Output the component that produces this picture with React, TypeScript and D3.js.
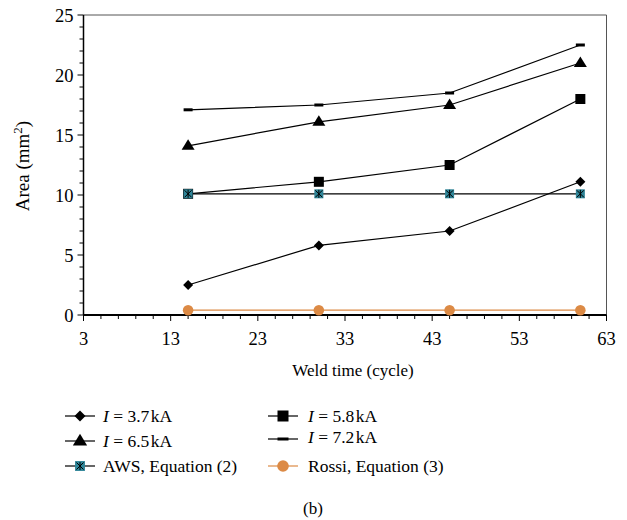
import React from "react";
import * as d3 from "d3";

const weldTime = [15, 30, 45, 60];
const s37 = [2.5, 5.8, 7.0, 11.1];
const s58 = [10.1, 11.1, 12.5, 18.0];
const s65 = [14.1, 16.1, 17.5, 21.0];
const s72 = [17.1, 17.5, 18.5, 22.5];
const aws = [10.1, 10.1, 10.1, 10.1];
const rossi = [0.4, 0.4, 0.4, 0.4];
const xTicks = [3, 13, 23, 33, 43, 53, 63];
const yTicks = [0, 5, 10, 15, 20, 25];

const W = 627, H = 520;
const L = 83.5, R = 606.5, T = 15, B = 315;
const FONT = "'Liberation Serif', 'Times New Roman', serif";
const TEAL = "#2f8598";
const ORANGE = "#dc8a45";

type Marker = "diamond" | "square" | "triangle" | "dash" | "aws" | "circle";

function MarkerShape({ kind, x, y, big }: { kind: Marker; x: number; y: number; big?: boolean }) {
  const k = big ? 1.1 : 1;
  switch (kind) {
    case "diamond":
      return <path d={`M${x},${y - 5 * k}L${x + 5 * k},${y}L${x},${y + 5 * k}L${x - 5 * k},${y}Z`} fill="#000" />;
    case "square":
      return <rect x={x - 5 * k} y={y - 5 * k} width={10 * k} height={10 * k} fill="#000" />;
    case "triangle":
      return <path d={`M${x},${y - 6.5 * k}L${x + 6.5 * k},${y + 4 * k}L${x - 6.5 * k},${y + 4 * k}Z`} fill="#000" />;
    case "dash": {
      const w = big ? 11 : 9;
      return <rect x={x - w / 2} y={y - 1.5} width={w} height={3} fill="#000" />;
    }
    case "aws":
      return (
        <g>
          <rect x={x - 4.5 * k} y={y - 4.5 * k} width={9 * k} height={9 * k} fill={TEAL} />
          <path d={`M${x - 3.5},${y - 3.5}L${x + 3.5},${y + 3.5}M${x + 3.5},${y - 3.5}L${x - 3.5},${y + 3.5}M${x},${y - 4}L${x},${y + 4}`} stroke="#000" strokeWidth={1} />
        </g>
      );
    case "circle":
      return <circle cx={x} cy={y} r={5.3 * k} fill={ORANGE} />;
  }
}

const series: { name: string; values: number[]; marker: Marker; color: string }[] = [
  { name: "3.7", values: s37, marker: "diamond", color: "#000" },
  { name: "5.8", values: s58, marker: "square", color: "#000" },
  { name: "6.5", values: s65, marker: "triangle", color: "#000" },
  { name: "7.2", values: s72, marker: "dash", color: "#000" },
  { name: "AWS, Equation (2)", values: aws, marker: "aws", color: "#000" },
  { name: "Rossi, Equation (3)", values: rossi, marker: "circle", color: ORANGE },
];

export default function App() {
  const x = d3.scaleLinear().domain([3, 63]).range([L, R]);
  const y = d3.scaleLinear().domain([0, 25]).range([B, T]);
  const line = d3.line<number>().x((_, i) => x(weldTime[i])).y((d) => y(d));
  const xMinor = d3.range(3, 64, 2);
  const yMinor = d3.range(0, 26, 1);

  const legendPos = [
    { lx: 80, ly: 416, tx: 103, ty: 422 },
    { lx: 283, ly: 416, tx: 308, ty: 422 },
    { lx: 80, ly: 441, tx: 103, ty: 447 },
    { lx: 283, ly: 439, tx: 308, ty: 443 },
    { lx: 80, ly: 466, tx: 103, ty: 472 },
    { lx: 283, ly: 466, tx: 308, ty: 472 },
  ];

  return (
    <svg width={W} height={H} style={{ position: "absolute", left: 0, top: 0, background: "#fff" }} fontFamily={FONT}>
      <line x1={L} x2={R} y1={T} y2={T} stroke="#555" strokeWidth={1} />
      <line x1={R} x2={R} y1={T} y2={B} stroke="#555" strokeWidth={1} />
      {yMinor.map((v) => (
        <line key={"ym" + v} x1={L - (v % 5 === 0 ? 6 : 4)} x2={L} y1={y(v)} y2={y(v)} stroke="#000" strokeWidth={1} />
      ))}
      {xMinor.map((v) => (
        <line key={"xm" + v} x1={x(v)} x2={x(v)} y1={B} y2={B + ((v - 3) % 10 === 0 ? 6 : 4)} stroke="#000" strokeWidth={1} />
      ))}
      <line x1={L} x2={L} y1={T} y2={B} stroke="#000" strokeWidth={1.5} />
      <line x1={L} x2={R} y1={B} y2={B} stroke="#000" strokeWidth={2} />
      {yTicks.map((v) => (
        <text key={"yt" + v} x={L - 10} y={y(v) + 6.5} textAnchor="end" fontSize={18.5}>{v}</text>
      ))}
      {xTicks.map((v) => (
        <text key={"xt" + v} x={x(v)} y={B + 30} textAnchor="middle" fontSize={18.5}>{v}</text>
      ))}
      <text x={353} y={376} textAnchor="middle" fontSize={17}>Weld time (cycle)</text>
      <text transform={`translate(29,166) rotate(-90)`} textAnchor="middle" fontSize={19}>
        Area (mm<tspan dy={-7} fontSize={13}>2</tspan><tspan dy={7}>)</tspan>
      </text>
      {series.map((s, i) => (
        <g key={"s" + i}>
          <path d={line(s.values) || ""} fill="none" stroke={s.color} strokeWidth={1.2} />
          {s.values.map((v, j) => (
            <MarkerShape key={j} kind={s.marker} x={x(weldTime[j])} y={y(v)} />
          ))}
        </g>
      ))}
      {series.map((s, i) => {
        const p = legendPos[i];
        const isI = i < 4;
        return (
          <g key={"lg" + i}>
            <line x1={p.lx - 15} x2={p.lx + 15} y1={p.ly} y2={p.ly} stroke={s.color} strokeWidth={1.2} />
            <MarkerShape kind={s.marker} x={p.lx} y={p.ly} big />
            <text x={p.tx} y={p.ty} fontSize={17.5}>
              {isI ? (
                <>
                  <tspan fontStyle="italic">I</tspan>
                  <tspan> = {s.name}&#8202;kA</tspan>
                </>
              ) : (
                s.name
              )}
            </text>
          </g>
        );
      })}
      <text x={313} y={514} textAnchor="middle" fontSize={17}>(b)</text>
    </svg>
  );
}
